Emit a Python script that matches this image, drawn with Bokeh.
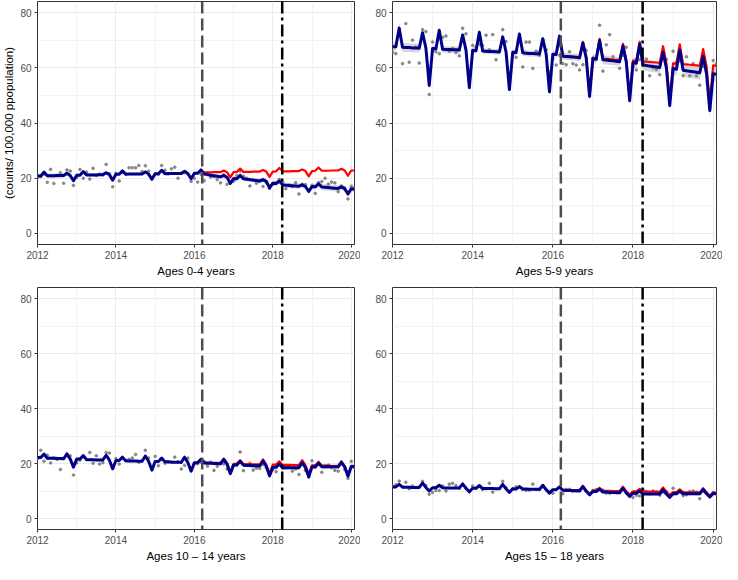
import pandas as pd
from bokeh.plotting import figure
from bokeh.models import FixedTicker, Span, Range1d
from bokeh.layouts import row, column
from bokeh.embed import file_html
from bokeh.resources import INLINE

FONT = "Liberation Sans"

# Monthly dates, Jan 2012 .. Feb 2020
dates = pd.date_range("2012-01-01", "2020-02-01", freq="MS")
x_all = list(dates.year + (dates.month - 1) / 12.0)
CF_START = 50  # March 2016: first month of counterfactual series
x_cf = x_all[CF_START:]

x_ticks = [2012, 2014, 2016, 2018, 2020]
x_minor = [2013, 2015, 2017, 2019]
y_ticks = [0, 20, 40, 60, 80]
y_minor = [10, 30, 50, 70]
intervention_1 = 2016.2
intervention_2 = 2018.24

titles = ["Ages 0-4 years", "Ages 5-9 years", "Ages 10 \u2013 14 years", "Ages 15 \u2013 18 years"]
y_title = "(counts/ 100,000 ppopulation)"

# ---------------- Ages 0-4 ----------------
obs_0_4 = [
    20.2, 20.6, 21.5, 18.5, 23.2, 18.1, 21.0, 22.0, 18.2, 23.0, 22.6, 17.4,
    20.3, 23.2, 20.0, 22.2, 19.7, 23.6, 21.0, 21.5, 21.2, 25.0, 21.6, 16.9,
    21.8, 19.0, 22.0, 21.5, 23.8, 23.8, 23.8, 24.6, 22.4, 24.5, 22.6, 19.8,
    21.4, 21.4, 24.6, 22.9, 21.5, 23.4, 24.0, 20.0, 21.8, 22.0, 21.5, 18.9,
    20.0, 18.6, 21.5, 19.1, 21.8, 20.4, 20.6, 19.5, 18.3, 21.2, 17.8, 18.5,
    18.9, 21.0, 22.6, 20.7, 20.0, 17.2, 19.5, 18.2, 18.9, 17.0, 18.4, 16.3,
    17.8, 18.2, 19.6, 18.6, 16.2, 17.5, 17.0, 18.4, 14.3, 17.8, 17.7, 15.6,
    17.4, 14.5, 18.4, 18.8, 20.0, 17.9, 18.6, 18.3, 15.1, 17.2, 16.5, 12.5,
    17.1, 16.0]
fit_0_4 = [
    20.8, 20.8, 22.2, 20.9, 20.9, 20.9, 21.0, 21.0, 21.0, 21.8, 21.0, 19.1,
    21.1, 21.1, 22.4, 21.2, 21.2, 21.2, 21.2, 21.3, 21.3, 22.0, 21.3, 19.3,
    21.4, 21.4, 22.7, 21.4, 21.5, 21.5, 21.5, 21.5, 21.5, 22.3, 21.5, 19.6,
    21.6, 21.6, 22.9, 21.6, 21.7, 21.7, 21.7, 21.7, 21.7, 22.5, 21.7, 19.8,
    21.8, 21.8, 23.0, 21.5, 21.3, 21.1, 20.9, 20.7, 20.5, 21.0, 20.3, 18.1,
    19.9, 19.8, 21.0, 19.8, 19.6, 19.5, 19.3, 19.2, 19.0, 19.5, 18.9, 16.5,
    18.2, 18.1, 19.0, 17.6, 17.5, 17.4, 17.3, 17.2, 17.1, 17.6, 17.0, 15.2,
    17.0, 16.9, 18.0, 16.8, 16.7, 16.6, 16.5, 16.4, 16.3, 16.9, 16.2, 14.3,
    16.2, 16.1]
cf_0_4 = [
    23.0, 22.1, 22.1, 22.1, 22.2, 22.2, 22.2, 22.8, 22.2, 20.3,
    22.2, 22.3, 23.5, 22.3, 22.3, 22.3, 22.4, 22.4, 22.4, 23.0, 22.4, 20.5,
    22.4, 22.5, 23.7, 22.5, 22.5, 22.5, 22.6, 22.6, 22.6, 23.2, 22.6, 20.7,
    22.6, 22.7, 23.9, 22.7, 22.7, 22.7, 22.8, 22.8, 22.8, 23.4, 22.8, 20.9,
    22.8, 22.8]
ci_0_4 = [0.8, 0.6, 0.5, 0.55, 0.65, 0.8, 0.95, 1.1, 1.3]  # half-width per year

# ---------------- Ages 5-9 ----------------
obs_5_9 = [
    65.5, 65.1, 73.0, 61.5, 76.0, 62.0, 70.0, 67.5, 61.7, 73.8, 73.1, 50.3,
    69.3, 65.8, 65.1, 71.0, 71.5, 66.0, 67.0, 65.5, 64.3, 74.3, 72.3, 55.0,
    68.1, 67.4, 68.5, 68.0, 71.8, 66.5, 72.0, 62.9, 66.0, 73.8, 69.5, 56.0,
    65.0, 63.8, 70.5, 60.3, 69.3, 69.3, 59.8, 66.0, 64.5, 70.2, 66.5, 58.5,
    63.2, 61.0, 64.5, 61.5, 61.1, 65.8, 61.5, 61.0, 59.2, 61.1, 66.3, 52.0,
    63.5, 63.0, 75.4, 58.8, 68.3, 72.0, 64.0, 62.5, 59.8, 64.5, 67.4, 50.5,
    60.5, 59.2, 62.9, 62.5, 63.2, 57.1, 60.0, 59.4, 57.5, 66.0, 63.0, 50.0,
    66.0, 62.0, 62.5, 57.1, 64.0, 57.1, 61.5, 57.1, 53.7, 60.5, 58.5, 45.5,
    62.6, 61.5]
fit_5_9 = [
    67.6, 67.6, 74.4, 67.4, 67.3, 67.3, 67.2, 67.2, 67.1, 72.7, 67.1, 53.6,
    67.0, 66.9, 73.6, 66.7, 66.6, 66.6, 66.5, 66.5, 66.4, 71.9, 66.4, 52.8,
    66.3, 66.2, 72.9, 66.1, 66.0, 65.9, 65.9, 65.8, 65.7, 71.2, 65.7, 52.1,
    65.6, 65.5, 72.2, 65.4, 65.3, 65.2, 65.2, 65.1, 65.0, 70.5, 65.0, 51.3,
    64.9, 64.8, 71.5, 64.2, 64.1, 64.0, 63.9, 63.8, 63.6, 69.0, 63.5, 49.6,
    63.3, 63.2, 69.9, 62.9, 62.8, 62.6, 62.5, 62.4, 62.2, 67.9, 62.0, 48.1,
    61.8, 61.6, 68.5, 61.0, 60.8, 60.6, 60.5, 60.3, 60.1, 65.6, 59.9, 46.3,
    59.7, 59.5, 66.5, 59.1, 58.9, 58.7, 58.6, 58.4, 58.2, 64.2, 58.0, 44.5,
    57.8, 57.7]
cf_5_9 = [
    71.5, 64.3, 64.2, 64.1, 64.0, 63.9, 63.8, 69.3, 63.7, 49.9,
    63.6, 63.5, 70.5, 63.3, 63.2, 63.1, 63.0, 62.9, 62.8, 68.7, 62.7, 48.9,
    62.6, 62.5, 69.4, 62.3, 62.2, 62.1, 62.0, 61.9, 61.8, 67.8, 61.7, 48.1,
    61.6, 61.5, 68.5, 61.3, 61.2, 61.1, 61.0, 60.9, 60.8, 66.8, 60.7, 47.2,
    60.9, 60.8]
ci_5_9 = [1.6, 1.2, 1.0, 1.1, 1.3, 1.6, 2.0, 2.4, 2.8]

# ---------------- Ages 10-14 ----------------
obs_10_14 = [
    21.8, 24.8, 20.8, 23.0, 20.2, 22.0, 21.5, 17.8, 21.7, 23.5, 22.8, 15.8,
    20.2, 21.2, 22.3, 21.5, 24.0, 20.1, 22.8, 19.8, 20.3, 24.0, 23.8, 18.2,
    21.8, 19.8, 21.8, 21.0, 21.5, 22.0, 23.3, 20.5, 21.0, 24.8, 22.0, 17.8,
    22.6, 19.2, 21.5, 20.1, 20.5, 20.5, 22.3, 20.6, 18.0, 19.3, 22.0, 17.6,
    19.8, 19.9, 20.5, 20.8, 19.0, 20.5, 17.5, 19.0, 20.3, 19.8, 18.0, 17.0,
    19.2, 19.5, 24.2, 17.4, 19.5, 20.1, 17.6, 18.3, 18.2, 19.6, 18.5, 16.0,
    17.8, 17.0, 19.8, 18.3, 18.5, 18.8, 17.2, 18.0, 16.0, 20.5, 17.5, 15.0,
    21.0, 18.6, 20.3, 16.8, 19.0, 19.4, 18.5, 17.5, 17.2, 20.5, 17.8, 14.6,
    20.8, 18.5]
fit_10_14 = [
    22.2, 22.2, 23.4, 21.9, 21.9, 21.9, 21.8, 21.8, 21.8, 23.4, 21.7, 18.7,
    21.6, 21.6, 22.9, 21.4, 21.4, 21.4, 21.3, 21.3, 21.3, 23.0, 21.2, 18.1,
    21.1, 21.1, 22.3, 21.0, 20.9, 20.9, 20.9, 20.8, 20.8, 22.7, 20.8, 17.6,
    20.7, 20.7, 22.0, 20.6, 20.6, 20.5, 20.5, 20.5, 20.4, 22.3, 20.4, 17.2,
    20.3, 20.3, 21.5, 20.2, 20.1, 20.1, 20.0, 20.0, 19.9, 21.5, 19.8, 16.3,
    19.5, 19.5, 20.8, 19.4, 19.3, 19.3, 19.2, 19.2, 19.1, 20.9, 19.0, 15.5,
    18.6, 18.6, 19.8, 18.5, 18.5, 18.5, 18.5, 18.5, 18.5, 20.3, 18.5, 15.2,
    18.8, 18.8, 20.1, 18.8, 18.8, 18.8, 18.8, 18.8, 18.8, 20.4, 18.8, 15.4,
    18.9, 18.9]
cf_10_14 = [
    21.5, 20.3, 20.3, 20.2, 20.2, 20.2, 20.1, 21.8, 20.1, 16.6,
    19.9, 19.9, 21.2, 19.8, 19.8, 19.8, 19.7, 19.7, 19.7, 21.5, 19.6, 16.4,
    19.6, 19.6, 20.8, 19.5, 19.5, 19.5, 19.4, 19.4, 19.4, 21.2, 19.3, 16.1,
    19.3, 19.3, 20.6, 19.2, 19.2, 19.2, 19.1, 19.1, 19.1, 20.8, 19.0, 15.8,
    19.0, 19.0]
ci_10_14 = [0.7, 0.5, 0.45, 0.5, 0.55, 0.65, 0.75, 0.9, 1.0]

# ---------------- Ages 15-18 ----------------
obs_15_18 = [
    11.8, 12.3, 13.6, 11.5, 13.2, 10.8, 11.8, 11.2, 11.4, 13.5, 12.0, 8.8,
    9.5, 10.2, 10.2, 11.8, 10.0, 12.5, 12.8, 12.0, 11.0, 12.2, 11.0, 9.8,
    11.8, 11.0, 12.0, 10.5, 10.8, 12.8, 9.6, 10.8, 11.0, 13.5, 11.2, 9.8,
    10.8, 11.5, 11.5, 10.5, 10.2, 10.3, 12.5, 10.5, 10.5, 11.5, 10.5, 9.8,
    9.2, 10.6, 11.5, 9.0, 10.6, 10.6, 10.0, 10.0, 10.3, 11.5, 10.0, 9.0,
    10.2, 10.5, 10.8, 10.3, 9.2, 9.2, 9.5, 9.8, 9.4, 10.8, 9.4, 8.2,
    7.6, 8.4, 8.2, 10.5, 9.8, 9.0, 10.0, 9.8, 8.5, 9.6, 9.8, 8.0,
    11.0, 9.2, 10.2, 8.3, 8.6, 9.8, 10.0, 9.6, 7.2, 10.0, 9.4, 8.2,
    9.5, 8.8]
fit_15_18 = [
    11.5, 11.5, 12.4, 11.4, 11.4, 11.4, 11.3, 11.3, 11.3, 12.9, 11.3, 10.0,
    11.2, 11.2, 12.1, 11.2, 11.1, 11.1, 11.1, 11.1, 11.1, 12.6, 11.0, 9.7,
    11.0, 11.0, 11.9, 10.9, 10.9, 10.9, 10.9, 10.8, 10.8, 12.4, 10.8, 9.5,
    10.8, 10.7, 11.6, 10.7, 10.7, 10.6, 10.6, 10.6, 10.6, 12.1, 10.5, 9.2,
    10.5, 10.5, 11.4, 10.3, 10.2, 10.2, 10.1, 10.1, 10.0, 11.6, 9.9, 8.6,
    9.8, 9.8, 10.7, 9.6, 9.6, 9.5, 9.5, 9.4, 9.4, 11.0, 9.3, 8.0,
    9.2, 9.2, 10.0, 8.9, 8.9, 8.9, 8.9, 8.9, 8.9, 10.5, 8.9, 7.7,
    9.0, 9.0, 9.9, 9.0, 9.0, 9.0, 9.0, 9.0, 9.0, 10.6, 9.0, 7.8,
    9.1, 9.1]
cf_15_18 = [
    11.4, 10.4, 10.4, 10.4, 10.3, 10.3, 10.3, 11.9, 10.2, 8.9,
    10.2, 10.2, 11.1, 10.1, 10.1, 10.1, 10.0, 10.0, 10.0, 11.6, 9.9, 8.7,
    9.9, 9.9, 10.8, 9.8, 9.8, 9.8, 9.8, 9.7, 9.7, 11.3, 9.7, 8.5,
    9.6, 9.6, 10.6, 9.6, 9.5, 9.5, 9.5, 9.5, 9.5, 11.0, 9.4, 8.3,
    9.4, 9.4]
ci_15_18 = [0.5, 0.4, 0.35, 0.4, 0.45, 0.5, 0.55, 0.65, 0.75]

years_idx = [d.year - 2012 for d in dates]


def make_panel(title, obs, fit, cf, ci, bl, br, bt, bb, fw, fh, ylab=False):
    p = figure(frame_width=fw, frame_height=fh,
               x_range=Range1d(2012, 2020 + 1 / 12), y_range=Range1d(-4, 84),
               output_backend="svg", toolbar_location=None,
               min_border_left=bl, min_border_right=br,
               min_border_top=bt, min_border_bottom=bb,
               background_fill_color="white", border_fill_color="white")
    p.outline_line_color = "#333333"
    p.outline_line_width = 1

    p.xaxis.ticker = FixedTicker(ticks=x_ticks, minor_ticks=x_minor)
    p.yaxis.ticker = FixedTicker(ticks=y_ticks, minor_ticks=y_minor)
    for ax in (p.xaxis, p.yaxis):
        ax.axis_line_color = None
        ax.major_tick_line_color = "#333333"
        ax.major_tick_in = 0
        ax.major_tick_out = 3
        ax.minor_tick_line_color = None
        ax.major_label_text_font = FONT
        ax.major_label_text_font_size = "10px"
        ax.major_label_text_color = "#4D4D4D"
        ax.major_label_standoff = 2
    p.xaxis.axis_label = title
    p.xaxis.axis_label_text_font = FONT
    p.xaxis.axis_label_text_font_size = "11.5px"
    p.xaxis.axis_label_text_font_style = "normal"
    p.xaxis.axis_label_text_color = "black"
    p.xaxis.axis_label_standoff = 3
    if ylab:
        p.yaxis.axis_label = y_title
        p.yaxis.axis_label_text_font = FONT
        p.yaxis.axis_label_text_font_size = "11.5px"
        p.yaxis.axis_label_text_font_style = "normal"
        p.yaxis.axis_label_text_color = "black"
        p.yaxis.axis_label_standoff = 2

    for g in (p.xgrid, p.ygrid):
        g.grid_line_color = "#EBEBEB"
        g.grid_line_width = 1
        g.minor_grid_line_color = "#EBEBEB"
        g.minor_grid_line_width = 0.6

    lower = [f - ci[y] for f, y in zip(fit, years_idx)]
    upper = [f + ci[y] for f, y in zip(fit, years_idx)]
    p.varea(x=x_all, y1=lower, y2=upper, fill_color="#BDBDBD", fill_alpha=0.6)
    p.scatter(x_all, obs, size=2.6, color="#7F7F7F", alpha=0.9)
    p.line(x_cf, cf, line_color="red", line_width=2.2, line_join="round")
    p.line(x_all, fit, line_color="#00008B", line_width=3, line_join="round")

    p.add_layout(Span(location=intervention_1, dimension="height",
                      line_color="#4D4D4D", line_width=2.5, line_dash="12 5"))
    p.add_layout(Span(location=intervention_2, dimension="height",
                      line_color="black", line_width=2.5, line_dash="12 4 3 4"))
    return p


p1 = make_panel(titles[0], obs_0_4, fit_0_4, cf_0_4, ci_0_4, 37, 6, 1, 37, 317, 243, ylab=True)
p2 = make_panel(titles[1], obs_5_9, fit_5_9, cf_5_9, ci_5_9, 32, 6, 1, 37, 324, 243)
p3 = make_panel(titles[2], obs_10_14, fit_10_14, cf_10_14, ci_10_14, 37, 6, 6, 34, 317, 242)
p4 = make_panel(titles[3], obs_15_18, fit_15_18, cf_15_18, ci_15_18, 32, 6, 6, 34, 324, 242)

layout = column(row(p1, p2), row(p3, p4))
open("out.html", "w").write(file_html(layout, INLINE))
